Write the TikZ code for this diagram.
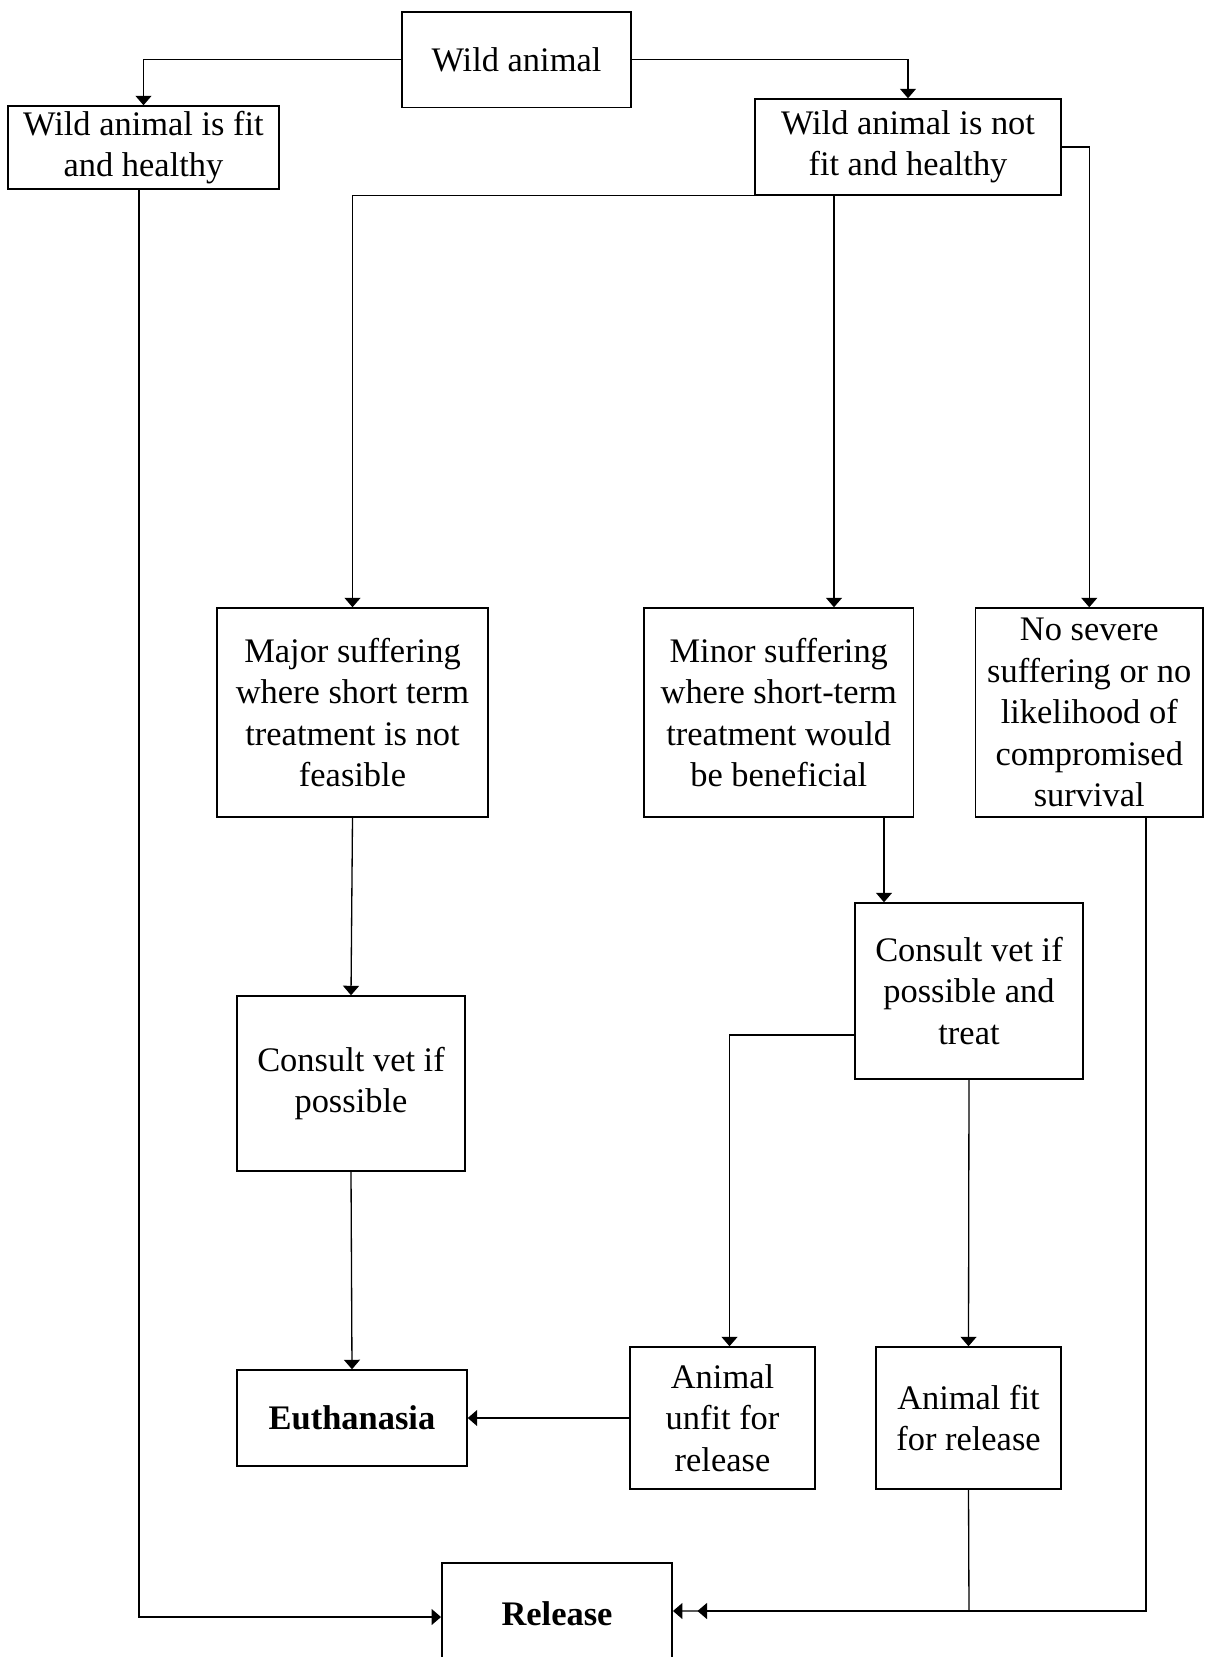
\documentclass[tikz,border=0pt]{standalone}
\usepackage{fontspec}
\setmainfont{Liberation Serif}
\usetikzlibrary{arrows.meta}
\begin{document}
\begin{tikzpicture}[x=0.02cm,y=-0.02cm,
  box/.style={draw, line width=0.85pt, align=center, inner sep=0pt,
    font=\fontsize{19.6}{23.6}\selectfont},
  conn/.style={line width=0.75pt},
  arr/.style={conn, -{Triangle[length=0.19cm,width=0.32cm]}},
  ]
\useasboundingbox (0,0) rectangle (1204,1657);
% boxes
\node[box, minimum width=4.58cm, minimum height=1.91cm] (wild) at (516.5,59.75) {Wild animal};
\node[box, minimum width=5.42cm, minimum height=1.66cm] (fit) at (143.5,147.5) {Wild animal is fit\\and healthy};
\node[box, minimum width=6.12cm, minimum height=1.92cm] (nfit) at (908,147) {Wild animal is not\\fit and healthy};
\node[box, minimum width=5.42cm, minimum height=4.18cm] (major) at (352.5,712.5) {Major suffering\\where short term\\treatment is not\\feasible};
\node[box, minimum width=5.39cm, minimum height=4.18cm] (minor) at (778.75,712.5) {Minor suffering\\where short-term\\treatment would\\be beneficial};
\node[box, minimum width=4.55cm, minimum height=4.18cm] (nosev) at (1089.25,712.5) {No severe\\suffering or no\\likelihood of\\compromised\\survival};
\node[box, minimum width=4.56cm, minimum height=3.5cm] (cv) at (351,1083.5) {Consult vet if\\possible};
\node[box, minimum width=4.56cm, minimum height=3.52cm] (cvt) at (969,991) {Consult vet if\\possible and\\treat};
\node[box, minimum width=3.7cm, minimum height=2.84cm] (unfit) at (722.5,1418) {Animal\\unfit for\\release};
\node[box, minimum width=3.7cm, minimum height=2.84cm] (afit) at (968.5,1418) {Animal fit\\for release};
\node[box, minimum width=4.6cm, minimum height=1.92cm] (euth) at (352,1418) {\bfseries Euthanasia};
\node[box, minimum width=4.61cm, minimum height=2.04cm] (rel) at (557,1614) {\bfseries Release};
% helper coordinates
\coordinate (mtop) at (834,195);
\coordinate (ctop) at (884,817);
\coordinate (uturn) at (729.5,1035);
\coordinate (nsbot) at (1146,817);
\coordinate (fbot) at (139,189);
\coordinate (rj) at (969,1611);
\coordinate (rj2) at (1146,1611);
\coordinate (rtip) at (697.5,1611);
% connectors
\draw[arr] (wild.west) -| (fit.north);
\draw[arr] (wild.east) -| (nfit.north);
\draw[arr] (nfit.east) -| (nosev.north);
\draw[arr] (nfit.south west) -| (major.north);
\draw[arr] (mtop) -- (mtop |- minor.north);
\draw[arr] (major.south) -- (cv.north);
\draw[arr] (cv.south) -- (euth.north);
\draw[arr] (ctop) -- (ctop |- cvt.north);
\draw[arr] (cvt.west |- uturn) -| (uturn |- unfit.north);
\draw[arr] (cvt.south) -- (afit.north);
\draw[arr] (unfit.west) -- (euth.east);
\draw[arr] (fbot) |- (rel.west |- 0,1617);
\draw[arr] (afit.south) -- (rj) -- (rel.east |- rj);
\draw[arr] (nsbot) -- (rj2) -- (rtip);
\end{tikzpicture}
\end{document}
